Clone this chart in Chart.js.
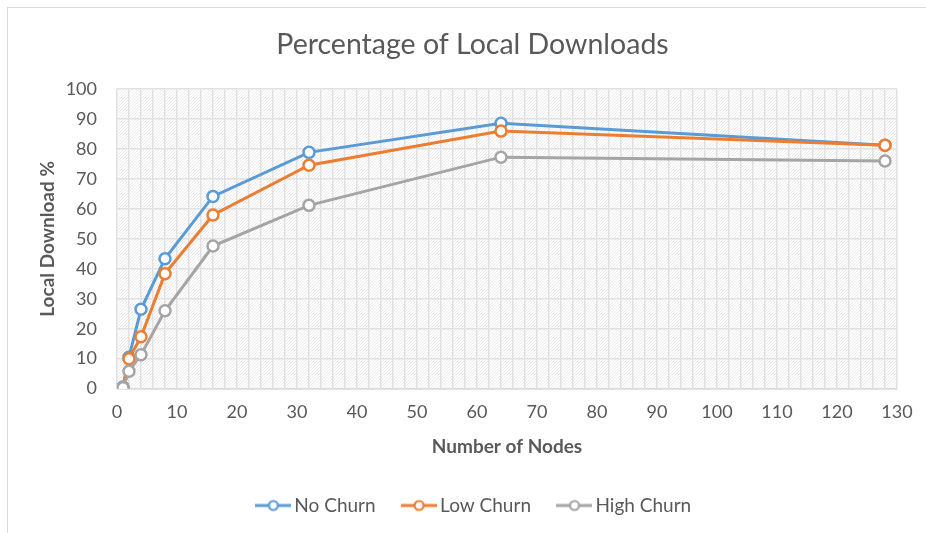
<!DOCTYPE html>
<html>
<head>
<meta charset="utf-8">
<script src="https://cdn.jsdelivr.net/npm/chart.js@4"></script>
<style>
  body { margin: 0; background: #fff; }
  #wrap { position: relative; width: 926px; height: 533px; overflow: hidden; }
  #frame { position: absolute; left: 7px; top: 7px; width: 940px; height: 560px; border: 1px solid #d9d9d9; pointer-events: none; }
</style>
</head>
<body>
<div id="wrap">
  <canvas id="chart" width="926" height="533"></canvas>
  <div id="frame"></div>
</div>
<script>
// number of nodes on the x axis
const nodes = [1, 2, 4, 8, 16, 32, 64, 128];

// local download % per churn level
const noChurn   = [0.5, 10.5, 26.5, 43.4, 64.2, 78.9, 88.6, 81.3];
const lowChurn  = [0.3, 10.0, 17.3, 38.4, 58.0, 74.6, 86.0, 81.3];
const highChurn = [0.3, 5.8, 11.3, 26.0, 47.6, 61.2, 77.3, 76.0];

const seriesNames = ['No Churn', 'Low Churn', 'High Churn'];
const seriesColors = ['#5B9BD5', '#ED7D31', '#A5A5A5'];

const xTicks = { min: 0, max: 130, label: 10, grid: 2 };
const yTicks = { min: 0, max: 100, step: 10 };

const gray = '#595959';
const font = 'Lato, "Open Sans", sans-serif';

function toPoints(vals) {
  return nodes.map((n, i) => ({ x: n, y: vals[i] }));
}

// little line-with-circle for the legend, like Excel
function legendMark(color) {
  const c = document.createElement('canvas');
  c.width = 36; c.height = 14;
  const ctx = c.getContext('2d');
  ctx.strokeStyle = color;
  ctx.lineWidth = 3;
  ctx.beginPath();
  ctx.moveTo(0, 7); ctx.lineTo(36, 7);
  ctx.stroke();
  ctx.beginPath();
  ctx.arc(18, 7, 4.5, 0, Math.PI * 2);
  ctx.fillStyle = '#fff';
  ctx.fill();
  ctx.lineWidth = 2.2;
  ctx.stroke();
  return c;
}

// hatched plot background
function hatch() {
  const c = document.createElement('canvas');
  c.width = 3; c.height = 3;
  const ctx = c.getContext('2d');
  ctx.fillStyle = '#fff';
  ctx.fillRect(0, 0, 3, 3);
  ctx.fillStyle = '#ebebeb';
  ctx.fillRect(2, 0, 1, 1);
  ctx.fillRect(1, 1, 1, 1);
  ctx.fillRect(0, 2, 1, 1);
  return c;
}

const hatchBg = {
  id: 'hatchBg',
  afterLayout(chart) {
    // Excel centres title and legend on the whole frame, not the padded box
    chart.legend.left += 10;
    chart.legend.right += 10;
    chart.titleBlock.left += 6;
    chart.titleBlock.right += 6;
  },
  beforeDraw(chart) {
    const { ctx, chartArea: a } = chart;
    ctx.save();
    ctx.fillStyle = ctx.createPattern(hatch(), 'repeat');
    ctx.fillRect(a.left, a.top, a.right - a.left, a.bottom - a.top);
    ctx.restore();
  }
};

const allSeries = [noChurn, lowChurn, highChurn];

new Chart(document.getElementById('chart'), {
  type: 'line',
  data: {
    datasets: allSeries.map((vals, i) => ({
      label: seriesNames[i],
      data: toPoints(vals),
      borderColor: seriesColors[i],
      backgroundColor: '#fff',
      borderWidth: 3,
      pointRadius: 5.5,
      pointBorderWidth: 2.5,
      pointBackgroundColor: '#fff',
      pointBorderColor: seriesColors[i],
      order: 3 - i,
      fill: false,
      tension: 0
    }))
  },
  options: {
    responsive: false,
    animation: false,
    layout: { padding: { left: 36, right: 29, top: 0, bottom: 8 } },
    plugins: {
      title: {
        display: true,
        text: 'Percentage of Local Downloads',
        color: gray,
        font: { family: font, size: 28.5, weight: 'normal' },
        padding: { top: 28, bottom: 27 }
      },
      legend: {
        position: 'bottom',
        labels: {
          usePointStyle: true,
          pointStyleWidth: 23,
          color: gray,
          font: { family: font, size: 19 },
          padding: 32,
          sort: (a, b) => a.datasetIndex - b.datasetIndex,
          generateLabels(chart) {
            return chart.data.datasets.map((ds, i) => ({
              text: ds.label,
              fontColor: gray,
              pointStyle: legendMark(seriesColors[i]),
              strokeStyle: seriesColors[i],
              fillStyle: '#fff',
              lineWidth: 0,
              datasetIndex: i
            }));
          }
        }
      },
      tooltip: { enabled: false }
    },
    scales: {
      x: {
        type: 'linear',
        min: xTicks.min,
        max: xTicks.max,
        border: { color: '#d9d9d9', width: 1.5 },
        grid: { color: '#e1e1e1', lineWidth: 1.5, drawTicks: false },
        ticks: {
          stepSize: xTicks.grid,
          autoSkip: false,
          maxRotation: 0,
          minRotation: 0,
          padding: 13,
          color: gray,
          font: { family: font, size: 18 },
          callback: v => (v % xTicks.label === 0 ? v : '')
        },
        title: {
          display: true,
          text: 'Number of Nodes',
          color: gray,
          font: { family: font, size: 19, weight: 'bold' },
          padding: { top: -1, bottom: 6 }
        }
      },
      y: {
        min: yTicks.min,
        max: yTicks.max,
        border: { display: false },
        grid: { color: '#e1e1e1', lineWidth: 1.5, drawTicks: false },
        afterFit(scale) { scale.width = 81; },
        ticks: {
          stepSize: yTicks.step,
          padding: 20,
          color: gray,
          font: { family: font, size: 18 }
        },
        title: {
          display: true,
          text: 'Local Download %',
          color: gray,
          font: { family: font, size: 19, weight: 'bold' },
          padding: { top: 0, bottom: 6 }
        }
      }
    }
  },
  plugins: [hatchBg]
});
</script>
</body>
</html>
